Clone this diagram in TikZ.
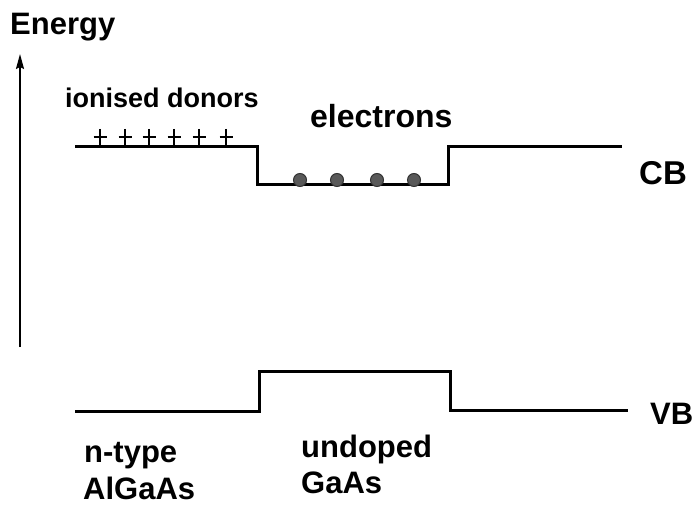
\documentclass[tikz,border=0pt]{standalone}
\usepackage{fontspec}
\setmainfont{Liberation Sans}
\usetikzlibrary{arrows.meta}
\begin{document}
\begin{tikzpicture}[x=1pt,y=-1pt,
  lbl/.style={anchor=base west,inner sep=0pt},
  fs/.style={font=\fontsize{#1}{#1}\selectfont\bfseries},
  band/.style={line width=3pt,line join=miter},
  plusmark/.style={line width=2pt},
  electron/.style={circle,fill=black!65,draw=black!80,line width=1pt,minimum size=13pt,inner sep=0pt}]
\useasboundingbox (0,0) rectangle (692,505);
% axis
\coordinate (a0) at (20,347);
\coordinate (a1) at (20,54);
\draw[line width=1.8pt,-{Stealth[length=15pt,width=8pt,inset=2pt]}] (a0) -- (a1);
\node[lbl,fs=31] (energy) at (10,35) {Energy};
% conduction band
\coordinate (c1) at (75,147);
\coordinate (c2) at (257,147);
\coordinate (c3) at (257,184);
\coordinate (c4) at (448,184);
\coordinate (c5) at (448,147);
\coordinate (c6) at (622,147);
\draw[band] (c1) -- (c2) -- (c3) -- (c4) -- (c5) -- (c6);
% valence band
\coordinate (v1) at (75,411);
\coordinate (v2) at (259,411);
\coordinate (v3) at (259,371);
\coordinate (v4) at (450,371);
\coordinate (v5) at (450,410);
\coordinate (v6) at (628,410);
\draw[band] (v1) -- (v2) -- (v3) -- (v4) -- (v5) -- (v6);
% donors
\foreach \x in {100,125,149,174,199,226}{
  \draw[plusmark] (\x-6.5,137) -- (\x+6.5,137);
  \draw[plusmark] (\x,129) -- (\x,147);
}
% electrons
\node[electron] (e1) at (300,180) {};
\node[electron] (e2) at (337,180) {};
\node[electron] (e3) at (377,180) {};
\node[electron] (e4) at (414,180) {};
% labels
\node[lbl,fs=27] (donors) at (65,108) {ionised donors};
\node[lbl,fs=32] (elec) at (310,128) {electrons};
\node[lbl,fs=33] (cb) at (639,184) {CB};
\node[lbl,fs=31] (vb) at (650,424) {VB};
\node[lbl,fs=31] (ntype) at (84,462) {n-type};
\node[lbl,fs=31] (algaas) at (83,499) {AlGaAs};
\node[lbl,fs=31] (undoped) at (301,457) {undoped};
\node[lbl,fs=31] (gaas) at (301,493) {GaAs};
\end{tikzpicture}
\end{document}
